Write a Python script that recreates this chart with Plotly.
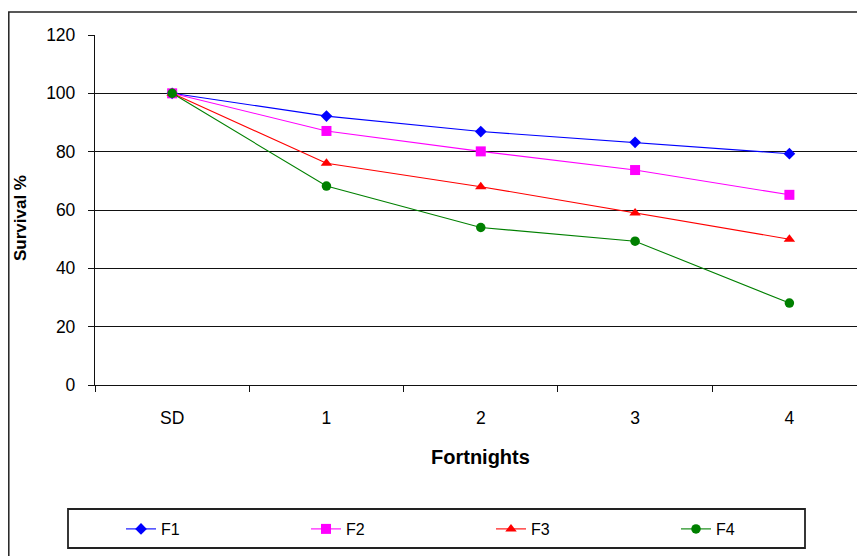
import plotly.graph_objects as go

categories = ["SD", "1", "2", "3", "4"]
f1 = [100, 92.2, 86.9, 83.2, 79.3]
f2 = [100, 87.1, 80.1, 73.7, 65.2]
f3 = [100, 76, 68, 59, 50]
f4 = [100, 68.2, 54, 49.3, 28.1]
y_ticks = [0, 20, 40, 60, 80, 100, 120]

series = [
    ("F1", f1, "#0000FF", "diamond", 9),
    ("F2", f2, "#FF00FF", "square", 10),
    ("F3", f3, "#FF0000", "triangle-up", 10),
    ("F4", f4, "#008000", "circle", 9.5),
]

fig = go.Figure()
for name, vals, color, sym, size in series:
    fig.add_trace(go.Scatter(
        x=categories, y=vals, name=name, mode="lines+markers",
        line=dict(color=color, width=1.1),
        marker=dict(symbol=sym, size=size, color=color, line=dict(width=0)),
    ))

OFF = 8  # page body margin
W, H = 865 - OFF, 556 - OFF
L, T = 95 - OFF, 35 - OFF
PB = 385 - OFF
B = H - PB
pw = W - L
ph = PB - T

def px_x(sx):
    return (sx - OFF - L) / pw

def px_y(sy):
    return (PB - (sy - OFF)) / ph

fig.update_layout(
    width=W, height=H,
    margin=dict(l=L, r=0, t=T, b=B),
    paper_bgcolor="white", plot_bgcolor="white",
    font=dict(family="Liberation Sans, Arial, sans-serif", size=16, color="black"),
    showlegend=True,
    legend=dict(
        orientation="h", x=px_x(121), y=px_y(529), xanchor="left", yanchor="middle",
        borderwidth=0, bgcolor="rgba(0,0,0,0)",
        entrywidth=140, font=dict(size=16),
    ),
    xaxis=dict(
        type="category", range=[-0.5, 4.49], showgrid=False,
        showline=True, linecolor="#111", linewidth=1.3,
        ticks="outside", tickson="boundaries", ticklen=6, tickcolor="#111",
        tickfont=dict(size=17.5), ticklabelstandoff=17,
    ),
    yaxis=dict(
        range=[0, 120], tickvals=y_ticks, showgrid=True, gridcolor="#111", gridwidth=1.2,
        showline=True, linecolor="#111", linewidth=1.3, zeroline=False,
        ticks="outside", ticklen=6, tickcolor="#111",
        tickfont=dict(size=17.5), ticklabelstandoff=9,
    ),
    shapes=[
        dict(type="rect", xref="paper", yref="paper",
             x0=px_x(8.8), x1=px_x(900), y0=px_y(600), y1=px_y(12),
             line=dict(color="#222", width=1.5), fillcolor="rgba(0,0,0,0)", layer="below"),
        dict(type="rect", xref="paper", yref="paper",
             x0=px_x(68), x1=px_x(805), y0=px_y(548), y1=px_y(509),
             line=dict(color="#222", width=1.8), fillcolor="rgba(0,0,0,0)", layer="below"),
    ],
    annotations=[
        dict(text="<b>Fortnights</b>", xref="paper", yref="paper",
             x=px_x(481), y=px_y(457), xanchor="center", yanchor="middle",
             showarrow=False, font=dict(size=20)),
        dict(text="<b>Survival %</b>", xref="paper", yref="paper", textangle=-90,
             x=px_x(20), y=px_y(218), xanchor="center", yanchor="middle",
             showarrow=False, font=dict(size=17)),
    ],
)

fig.write_html("out.html")
